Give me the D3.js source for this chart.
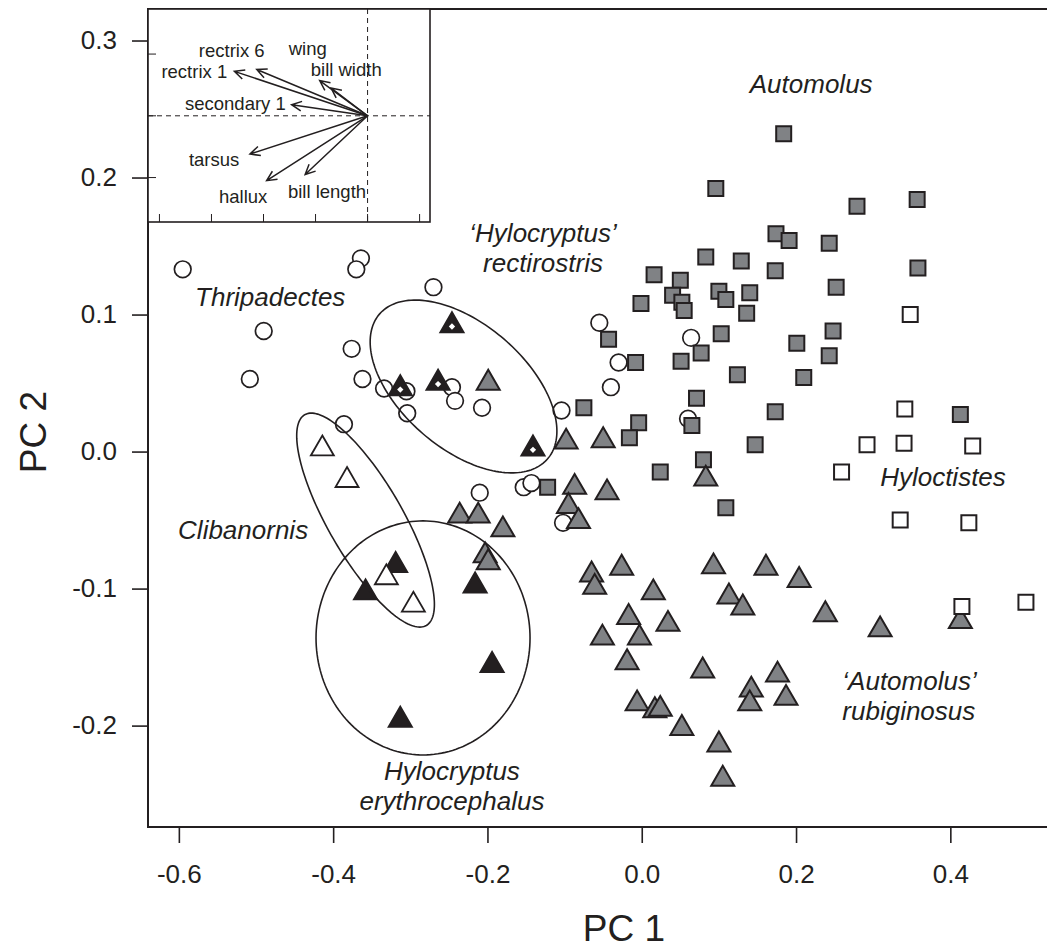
<!DOCTYPE html>
<html>
<head>
<meta charset="utf-8">
<script src="https://cdn.jsdelivr.net/npm/d3@7"></script>
<style>
  body { margin: 0; background: #fff; }
  svg { display: block; }
  text { font-family: "Liberation Sans", Arial, sans-serif; fill: #231f20; }
</style>
</head>
<body>
<div id="chart"></div>
<script>
// PCA scores, [PC1, PC2]
var thripadectes = [[-0.595,0.133],[-0.364,0.141],[-0.370,0.133],[-0.270,0.120],[-0.490,0.088],
  [-0.376,0.075],[-0.508,0.053],[-0.362,0.053],[-0.334,0.046],[-0.305,0.044],[-0.246,0.047],
  [-0.242,0.037],[-0.207,0.032],[-0.304,0.028],[-0.386,0.020],[-0.210,-0.030],[-0.104,0.030],
  [-0.030,0.065],[-0.040,0.047],[-0.055,0.094],[0.064,0.083],[0.060,0.024],[-0.153,-0.026],
  [-0.143,-0.023],[-0.102,-0.052]];

var automolus = [[0.184,0.232],[0.096,0.192],[0.279,0.179],[0.357,0.184],[0.174,0.159],[0.191,0.154],
  [0.243,0.152],[0.083,0.142],[0.129,0.139],[0.173,0.132],[0.358,0.134],[0.016,0.129],[0.050,0.125],
  [0.252,0.120],[0.100,0.117],[0.140,0.116],[0.040,0.114],[0.109,0.111],[0.052,0.109],[-0.001,0.108],
  [0.055,0.103],[0.136,0.101],[0.248,0.088],[0.103,0.086],[-0.043,0.082],[0.201,0.079],[0.243,0.070],
  [0.077,0.072],[0.051,0.066],[-0.008,0.065],[0.124,0.056],[0.210,0.054],[0.071,0.039],[-0.075,0.032],
  [0.173,0.029],[0.413,0.027],[-0.004,0.021],[-0.016,0.010],[0.065,0.019],[0.147,0.005],[0.080,-0.006],
  [0.024,-0.015],[0.109,-0.041],[-0.122,-0.026]];

var rubiginosus = [[-0.199,0.050],[-0.098,0.007],[-0.050,0.008],[0.083,-0.020],[-0.087,-0.026],
  [-0.095,-0.040],[-0.082,-0.051],[-0.045,-0.030],[-0.236,-0.047],[-0.212,-0.047],[-0.180,-0.057],
  [-0.203,-0.076],[-0.199,-0.081],[-0.065,-0.090],[-0.061,-0.099],[-0.026,-0.085],[0.093,-0.084],
  [0.161,-0.085],[0.204,-0.094],[0.015,-0.103],[0.113,-0.106],[0.131,-0.114],[0.238,-0.119],
  [-0.017,-0.121],[0.034,-0.126],[-0.051,-0.136],[-0.003,-0.136],[-0.019,-0.154],[0.079,-0.160],
  [0.176,-0.163],[0.142,-0.174],[0.187,-0.180],[0.140,-0.184],[-0.006,-0.184],[0.017,-0.189],
  [0.024,-0.188],[0.052,-0.202],[0.100,-0.214],[0.105,-0.239],[0.309,-0.130],[0.413,-0.124]];

var hyloctistes = [[0.348,0.100],[0.341,0.031],[0.292,0.005],[0.340,0.006],[0.429,0.004],
  [0.259,-0.015],[0.335,-0.050],[0.424,-0.052],[0.415,-0.113],[0.498,-0.110]];

var erythrocephalus = [[-0.319,-0.083],[-0.358,-0.103],[-0.216,-0.098],[-0.194,-0.156],[-0.313,-0.196]];

var clibanornis = [[-0.414,0.002],[-0.382,-0.021],[-0.331,-0.092],[-0.296,-0.112]];

var rectirostris = [[-0.246,0.092],[-0.313,0.046],[-0.264,0.050],[-0.141,0.002]];

// group ellipses: centre, and two conjugate semi-axes (PC units)
var ellipseCentres = [[-0.231,0.0475],[-0.358,-0.050],[-0.2835,-0.136]];
var ellipseAxisU = [[0.109,-0.0528],[0.0788,-0.0769],[0.1387,0]];
var ellipseAxisV = [[-0.0526,-0.0345],[-0.0419,-0.0136],[0,-0.0854]];

// loadings inset
var varNames = ["rectrix 1","rectrix 6","wing","bill width","secondary 1","tarsus","hallux","bill length"];
var loadX = [-2.56,-2.13,-0.70,-0.92,-1.46,-2.26,-1.94,-1.20];
var loadY = [0.72,0.75,0.45,0.57,0.18,-0.62,-1.05,-0.95];

var xTicks = [-0.6,-0.4,-0.2,0.0,0.2,0.4];
var yTicks = [-0.2,-0.1,0.0,0.1,0.2,0.3];

// Step 1: chart size
var svgWidth = 1047, svgHeight = 949;
var plot = {left: 148, top: 9, right: 1100, bottom: 827};

var svg = d3.select("#chart").append("svg")
  .attr("width", svgWidth).attr("height", svgHeight);

var x = d3.scaleLinear().domain([-0.64, 0.594]).range([plot.left, plot.right]);
var y = d3.scaleLinear().domain([-0.274, 0.323]).range([plot.bottom, plot.top]);

var ink = "#231f20", grey = "#808285";

// axes
var xAxis = svg.append("g")
  .attr("transform", "translate(0," + plot.bottom + ")")
  .call(d3.axisBottom(x).tickValues(xTicks).tickSize(16).tickPadding(22)
    .tickFormat(function(d) { return d.toFixed(1); }));
var yAxis = svg.append("g")
  .attr("transform", "translate(" + plot.left + ",0)")
  .call(d3.axisLeft(y).tickValues(yTicks).tickSize(16).tickPadding(15)
    .tickFormat(function(d) { return d.toFixed(1); }));
[xAxis, yAxis].forEach(function(g) {
  g.select(".domain").remove();
  g.selectAll("line").attr("stroke", ink).attr("stroke-width", 1.6);
  g.selectAll("text").style("font-size", "26px").attr("fill", ink);
});

svg.append("text").attr("x", (plot.left + plot.right) / 2).attr("y", 941)
  .attr("text-anchor", "middle").style("font-size", "37px").text("PC 1");
svg.append("text")
  .attr("transform", "translate(46,432) rotate(-90)")
  .attr("text-anchor", "middle").style("font-size", "37px").text("PC 2");

// points
var pts = svg.append("g");
function drawSymbol(data, type, size, fill, sw) {
  pts.selectAll(null).data(data).enter().append("path")
    .attr("d", d3.symbol().type(type).size(size))
    .attr("transform", function(d) { return "translate(" + x(d[0]) + "," + y(d[1]) + ")"; })
    .attr("fill", fill).attr("stroke", ink).attr("stroke-width", sw)
    .attr("stroke-linejoin", "miter");
}
drawSymbol(thripadectes, d3.symbolCircle, 218, "#fff", 1.7);
drawSymbol(automolus, d3.symbolSquare, 225, grey, 2);
drawSymbol(rubiginosus, d3.symbolTriangle, 229, grey, 2);
drawSymbol(hyloctistes, d3.symbolSquare, 225, "#fff", 2);
drawSymbol(erythrocephalus, d3.symbolTriangle, 229, ink, 2);
drawSymbol(clibanornis, d3.symbolTriangle, 229, "#fff", 1.8);
drawSymbol(rectirostris, d3.symbolTriangle, 229, ink, 2);
// white diamond inside the rectirostris triangles
pts.selectAll(null).data(rectirostris).enter().append("path")
  .attr("d", d3.symbol().type(d3.symbolSquare).size(20))
  .attr("transform", function(d) { return "translate(" + x(d[0]) + "," + (y(d[1]) + 1) + ") rotate(45)"; })
  .attr("fill", "#fff");

// ellipses
var ellipseLine = d3.line().curve(d3.curveLinearClosed);
ellipseCentres.forEach(function(c, i) {
  var u = ellipseAxisU[i], v = ellipseAxisV[i];
  var ring = d3.range(0, 2 * Math.PI, Math.PI / 90).map(function(t) {
    return [x(c[0] + u[0] * Math.cos(t) + v[0] * Math.sin(t)),
            y(c[1] + u[1] * Math.cos(t) + v[1] * Math.sin(t))];
  });
  svg.append("path").attr("d", ellipseLine(ring))
    .attr("fill", "none").attr("stroke", ink).attr("stroke-width", 1.6);
});

// group labels (italic)
var labels = [
  {t: ["Automolus"], x: 0.140, y: 0.262, a: "start"},
  {t: ["\u2018Hylocryptus\u2019", "rectirostris"], x: -0.128, y: 0.153, a: "middle"},
  {t: ["Thripadectes"], x: -0.579, y: 0.106, a: "start"},
  {t: ["Clibanornis"], x: -0.601, y: -0.064, a: "start"},
  {t: ["Hyloctistes"], x: 0.309, y: -0.025, a: "start"},
  {t: ["\u2018Automolus\u2019", "rubiginosus"], x: 0.260, y: -0.174, a: "start"},
  {t: ["Hylocryptus", "erythrocephalus"], x: -0.246, y: -0.240, a: "middle"}
];
labels.forEach(function(l) {
  var txt = svg.append("text").attr("text-anchor", l.a)
    .style("font-size", "26px").style("font-style", "italic");
  l.t.forEach(function(s, k) {
    txt.append("tspan").attr("x", x(l.x)).attr("y", y(l.y) + k * 30).text(s);
  });
});

// frame
svg.append("rect").attr("x", plot.left).attr("y", plot.top)
  .attr("width", plot.right - plot.left).attr("height", plot.bottom - plot.top)
  .attr("fill", "none").attr("stroke", ink).attr("stroke-width", 2);

// Step 2: loadings inset
var inset = {left: 148, top: 9, right: 430, bottom: 222};
var ix = d3.scaleLinear().domain([-4.22, 1.2]).range([inset.left, inset.right]);
var iy = d3.scaleLinear().domain([-1.72, 1.73]).range([inset.bottom, inset.top]);
var ins = svg.append("g");
ins.append("rect").attr("x", inset.left).attr("y", inset.top)
  .attr("width", inset.right - inset.left).attr("height", inset.bottom - inset.top)
  .attr("fill", "#fff").attr("stroke", ink).attr("stroke-width", 1.6);
ins.append("line").attr("x1", ix(0)).attr("x2", ix(0)).attr("y1", inset.top).attr("y2", inset.bottom)
  .attr("stroke", ink).attr("stroke-width", 1).attr("stroke-dasharray", "5,4");
ins.append("line").attr("x1", inset.left).attr("x2", inset.right).attr("y1", iy(0)).attr("y2", iy(0))
  .attr("stroke", ink).attr("stroke-width", 1).attr("stroke-dasharray", "5,4");
ins.selectAll(null).data(d3.range(-4, 2)).enter().append("line")
  .attr("x1", function(d) { return ix(d); }).attr("x2", function(d) { return ix(d); })
  .attr("y1", inset.bottom).attr("y2", inset.bottom - 8).attr("stroke", ink).attr("stroke-width", 1);
ins.selectAll(null).data([-1, 0, 1]).enter().append("line")
  .attr("y1", function(d) { return iy(d); }).attr("y2", function(d) { return iy(d); })
  .attr("x1", inset.left).attr("x2", inset.left + 8).attr("stroke", ink).attr("stroke-width", 1);

varNames.forEach(function(name, i) {
  var x0 = ix(0), y0 = iy(0), x1 = ix(loadX[i]), y1 = iy(loadY[i]);
  var ang = Math.atan2(y1 - y0, x1 - x0), head = 11, spread = Math.PI / 7;
  ins.append("path")
    .attr("d", "M" + x0 + "," + y0 + "L" + x1 + "," + y1 +
      "M" + (x1 - head * Math.cos(ang - spread)) + "," + (y1 - head * Math.sin(ang - spread)) +
      "L" + x1 + "," + y1 +
      "L" + (x1 - head * Math.cos(ang + spread)) + "," + (y1 - head * Math.sin(ang + spread)))
    .attr("fill", "none").attr("stroke", ink).attr("stroke-width", 1.5);
});

// arrow labels, positions in loading units
var varLabelX = [-3.33,-2.61,-1.15,-0.41,-2.54,-2.95,-2.39,-0.78];
var varLabelY = [0.61,0.96,0.99,0.64,0.09,-0.81,-1.42,-1.33];
ins.selectAll(null).data(varNames).enter().append("text")
  .attr("x", function(d, i) { return ix(varLabelX[i]); })
  .attr("y", function(d, i) { return iy(varLabelY[i]); })
  .attr("text-anchor", "middle").style("font-size", "18.5px")
  .text(function(d) { return d; });
</script>
</body>
</html>
